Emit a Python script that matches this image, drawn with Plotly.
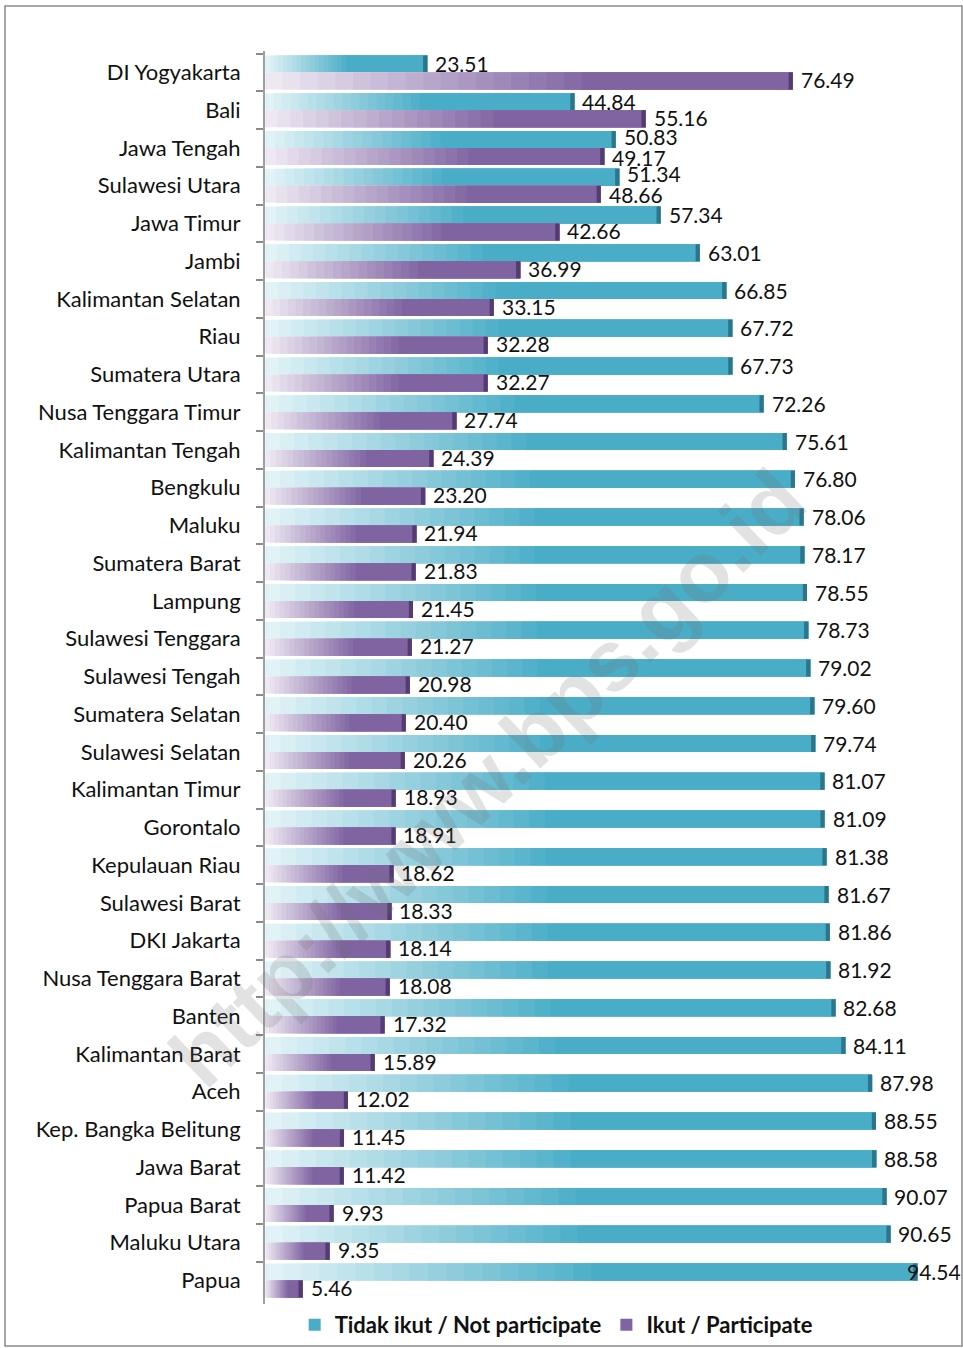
import plotly.graph_objects as go

provinces = ["DI Yogyakarta", "Bali", "Jawa Tengah", "Sulawesi Utara", "Jawa Timur", "Jambi",
             "Kalimantan Selatan", "Riau", "Sumatera Utara", "Nusa Tenggara Timur",
             "Kalimantan Tengah", "Bengkulu", "Maluku", "Sumatera Barat", "Lampung",
             "Sulawesi Tenggara", "Sulawesi Tengah", "Sumatera Selatan", "Sulawesi Selatan",
             "Kalimantan Timur", "Gorontalo", "Kepulauan Riau", "Sulawesi Barat", "DKI Jakarta",
             "Nusa Tenggara Barat", "Banten", "Kalimantan Barat", "Aceh", "Kep. Bangka Belitung",
             "Jawa Barat", "Papua Barat", "Maluku Utara", "Papua"]
not_participate = [23.51, 44.84, 50.83, 51.34, 57.34, 63.01, 66.85, 67.72, 67.73, 72.26,
                   75.61, 76.80, 78.06, 78.17, 78.55, 78.73, 79.02, 79.60, 79.74, 81.07,
                   81.09, 81.38, 81.67, 81.86, 81.92, 82.68, 84.11, 87.98, 88.55, 88.58,
                   90.07, 90.65, 94.54]
participate = [76.49, 55.16, 49.17, 48.66, 42.66, 36.99, 33.15, 32.28, 32.27, 27.74,
               24.39, 23.20, 21.94, 21.83, 21.45, 21.27, 20.98, 20.40, 20.26, 18.93,
               18.91, 18.62, 18.33, 18.14, 18.08, 17.32, 15.89, 12.02, 11.45, 11.42,
               9.93, 9.35, 5.46]
series_names = ["Tidak ikut / Not participate", "Ikut / Participate"]

FONT = "Lato"
series = [
    dict(name=series_names[0], vals=not_participate, other=participate,
         light=(226, 243, 247), full=(74, 173, 199), cap="rgb(44,118,140)",
         offset=-0.45, yshift=9, yshift_close=12, grad=0.5),
    dict(name=series_names[1], vals=participate, other=not_participate,
         light=(238, 232, 243), full=(128, 100, 162), cap="rgb(84,60,115)",
         offset=0.0, yshift=-7, yshift_close=-9, grad=0.6),
]
W = 0.45
NSEG = 18

fig = go.Figure()
annotations = []
for s in series:
    vals = s["vals"]
    for k in range(NSEG + 1):
        t = k / NSEG
        c = tuple(round(s["light"][i] + (s["full"][i] - s["light"][i]) * t) for i in range(3))
        f0 = s["grad"] * t
        fig.add_trace(go.Bar(
            y=provinces, x=[v * (1 - f0) for v in vals], base=[v * f0 for v in vals],
            orientation="h", offset=s["offset"], width=W,
            marker=dict(color="rgb(%d,%d,%d)" % c, line=dict(width=0)),
            name=s["name"], showlegend=(k == NSEG), legendgroup=s["name"],
            hoverinfo="skip"))
    # 3D end cap
    capw = 0.6
    fig.add_trace(go.Bar(
        y=provinces, x=[capw for v in vals], base=[v - capw for v in vals],
        orientation="h", offset=s["offset"], width=W,
        marker=dict(color=s["cap"], line=dict(width=0)),
        showlegend=False, legendgroup=s["name"], hoverinfo="skip"))
    for p, v, o in zip(provinces, vals, s["other"]):
        over = v > 93
        close = abs(v - o) < 8
        annotations.append(dict(
            x=v, y=p, xref="x", yref="y", text="%.2f" % v, showarrow=False,
            xanchor="left", yanchor="middle", xshift=-12 if over else 6,
            yshift=s["yshift_close"] if close else s["yshift"],
            font=dict(family=FONT, size=21, color="#111111")))

# watermark
annotations.append(dict(
    x=0.322, y=0.42, xref="paper", yref="paper", text="<b>http://www.bps.go.id</b>",
    showarrow=False, textangle=-44, xanchor="center", yanchor="middle",
    font=dict(family="Liberation Sans", size=86, color="rgba(110,110,110,0.2)")))

fig.update_layout(
    width=963, height=1348,
    margin=dict(l=265, r=8, t=51, b=44, autoexpand=False),
    barmode="overlay",
    paper_bgcolor="white", plot_bgcolor="white",
    font=dict(family=FONT, size=21, color="#111111"),
    xaxis=dict(range=[0, 100], visible=False, fixedrange=True),
    yaxis=dict(type="category", autorange="reversed", showline=True, linecolor="#a0a0a0",
               linewidth=2, ticks="outside", ticklen=7, tickcolor="#8a8a8a", tickwidth=1.5,
               tickson="boundaries", ticklabelstandoff=18, showgrid=False, fixedrange=True,
               tickfont=dict(family=FONT, size=22, color="#111111")),
    legend=dict(orientation="h", x=0.422, xanchor="center", y=-0.0168, yanchor="middle",
                font=dict(family=FONT, size=22, color="#111111", weight="bold"),
                bgcolor="rgba(0,0,0,0)"),
    annotations=annotations,
    shapes=[dict(type="rect", xref="paper", yref="paper", x0=-0.3768, x1=1.0101,
                 y0=-0.0335, y1=1.0359, line=dict(color="#8a8a8a", width=1.5),
                 fillcolor="rgba(0,0,0,0)", layer="below")],
)

fig.write_html("out.html", config={"displayModeBar": False},
               post_script="document.body.style.margin='0';document.body.style.overflow='hidden';")
